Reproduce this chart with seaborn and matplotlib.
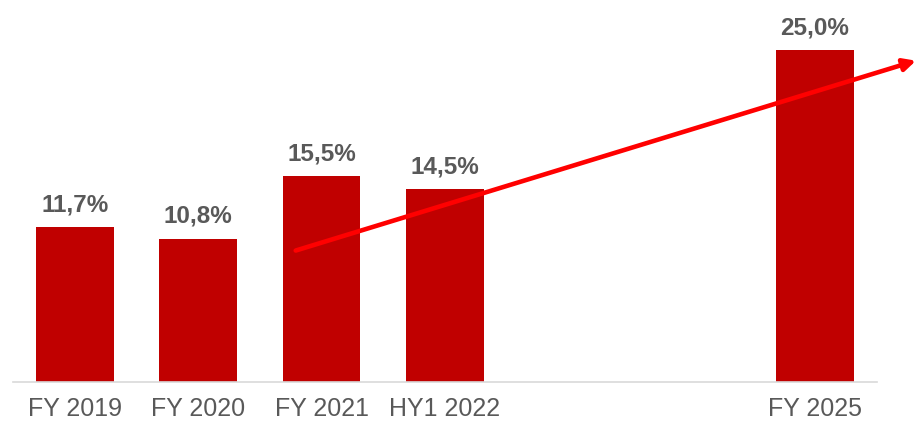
import matplotlib
matplotlib.use("Agg")
import matplotlib.pyplot as plt
import seaborn as sns
import pandas as pd

# Share of revenue by period
periods = ["FY 2019", "FY 2020", "FY 2021", "HY1 2022", "FY 2025"]
shares = [11.7, 10.8, 15.5, 14.5, 25.0]
labels = ["11,7%", "10,8%", "15,5%", "14,5%", "25,0%"]
# Slot order on the axis; the two blank slots leave a gap before the target year
slot_order = ["FY 2019", "FY 2020", "FY 2021", "HY1 2022", " ", "  ", "FY 2025"]

# Trend arrow endpoints (slot position, value)
trend_start = (1.79, 9.9)
trend_end = (6.82, 24.2)

sns.set_theme(style="white")
plt.rcParams["font.family"] = ["Liberation Sans", "DejaVu Sans"]

df = pd.DataFrame({"period": periods, "share": shares})

fig = plt.figure(figsize=(9.14, 4.22), dpi=100)
ax = fig.add_axes([0.0146, 0.0948, 0.9444, 0.881])

sns.barplot(data=df, x="period", y="share", order=slot_order,
            color="#C00000", saturation=1, width=0.63, ax=ax)
for p in ax.patches:
    p.set_edgecolor("none")

for name, val, lab in zip(periods, shares, labels):
    xpos = slot_order.index(name)
    ax.text(xpos, val + 0.8, lab, ha="center", va="bottom",
            fontsize=17.5, fontweight="bold", color="#595959")

ax.set_xlim(-0.5, 6.5)
ax.set_ylim(0, 28)
ax.set_xlabel("")
ax.set_ylabel("")
ax.set_yticks([])
ax.tick_params(axis="x", length=0, labelsize=18, labelcolor="#595959", pad=11)
for side in ["top", "right", "left"]:
    ax.spines[side].set_visible(False)
ax.spines["bottom"].set_color("#D9D9D9")
ax.spines["bottom"].set_linewidth(1.2)

ax.annotate("", xy=trend_end, xytext=trend_start,
            arrowprops=dict(arrowstyle="-|>,head_length=0.6,head_width=0.3",
                            color="#FF0000", lw=3.3, shrinkA=0, shrinkB=0),
            annotation_clip=False)

fig.savefig("out.png", dpi=100)
